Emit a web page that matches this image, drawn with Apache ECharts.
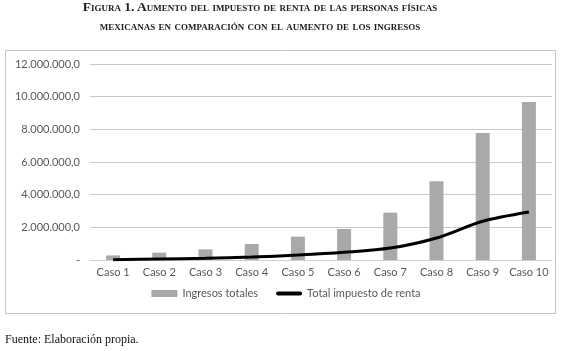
<!DOCTYPE html>
<html>
<head>
<meta charset="utf-8">
<script src="https://cdn.jsdelivr.net/npm/echarts@6/dist/echarts.min.js"></script>
<style>
  body { margin:0; background:#fff; }
  #wrap { position:relative; width:572px; height:351px; }
  #main { position:absolute; left:0; top:0; width:572px; height:351px; }
  .ttl { position:absolute; left:-26px; width:572px; text-align:center; font-family:"Liberation Serif", serif;
         font-weight:bold; font-variant:small-caps; color:#222; white-space:nowrap; }
  #foot { position:absolute; left:5px; top:332px; font-family:"Liberation Serif", serif; font-size:12px; color:#111; }
</style>
</head>
<body>
<div id="wrap">
  <div id="main"></div>
  <div class="ttl" style="top:-1px;font-size:13.5px;">Figura 1. Aumento del impuesto de renta de las personas físicas</div>
  <div class="ttl" style="top:18px;font-size:13.5px;">mexicanas en comparación con el aumento de los ingresos</div>
  <div id="foot">Fuente: Elaboración propia.</div>
</div>
<script type="text/javascript">
var casos = ['Caso 1','Caso 2','Caso 3','Caso 4','Caso 5','Caso 6','Caso 7','Caso 8','Caso 9','Caso 10'];
var ingresos = [280000, 450000, 650000, 980000, 1430000, 1900000, 2900000, 4820000, 7770000, 9670000];
var impuesto = [20000, 60000, 100000, 180000, 300000, 470000, 730000, 1350000, 2370000, 2940000];

function fmt(v){
    if (v === 0) return '-';
    return v.toFixed(1).replace('.', ',').replace(/\B(?=(\d{3})+(?!\d))/g, '.');
}

var myChart = echarts.init(document.getElementById('main'));
var option = {
    animation: false,
    textStyle: { fontFamily: 'Lato' },
    graphic: [{
        type: 'rect',
        shape: { x: 5.5, y: 50.5, width: 550, height: 263 },
        style: { fill: 'none', stroke: '#c4c4c4', lineWidth: 1 },
        z: -1
    }],
    grid: { left: 90, right: 20, top: 64, bottom: 91 },
    legend: {
        bottom: 47,
        left: 'center',
        itemGap: 18,
        itemWidth: 26,
        itemHeight: 7,
        textStyle: { color: '#595959', fontSize: 11, fontFamily: 'Lato' },
        data: [
            { name: 'Ingresos totales', icon: 'rect' },
            { name: 'Total impuesto de renta', icon: 'path://M2,0 L24,0 A2,2 0 0 1 24,4 L2,4 A2,2 0 0 1 2,0 Z' }
        ]
    },
    xAxis: {
        type: 'category',
        data: casos,
        axisTick: { show: false },
        axisLine: { lineStyle: { color: '#d0d0d0' } },
        axisLabel: { color: '#595959', fontSize: 11, margin: 7, interval: 0 }
    },
    yAxis: {
        type: 'value',
        min: 0, max: 12000000, interval: 2000000,
        axisLabel: { color: '#595959', fontSize: 11, margin: 10, formatter: fmt },
        splitLine: { lineStyle: { color: '#c8c8c8' } }
    },
    series: [{
        name: 'Ingresos totales',
        type: 'bar',
        data: ingresos,
        barWidth: 14,
        itemStyle: { color: '#a9a9a9' }
    }, {
        name: 'Total impuesto de renta',
        type: 'line',
        data: impuesto,
        smooth: 0.3,
        symbol: 'none',
        symbolKeepAspect: true,
        lineStyle: { color: '#000', width: 3 },
        itemStyle: { color: '#000' }
    }]
};
myChart.setOption(option);
</script>
</body>
</html>
